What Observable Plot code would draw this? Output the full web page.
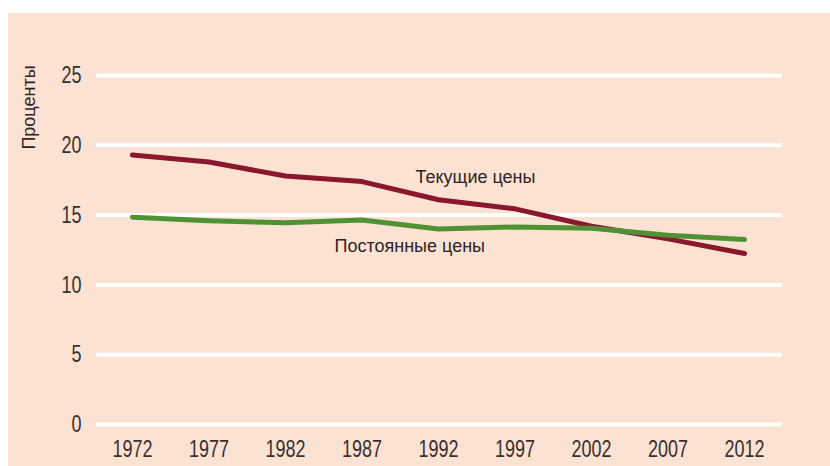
<!DOCTYPE html>
<html>
<head>
<meta charset="utf-8">
<script src="https://cdn.jsdelivr.net/npm/d3@7"></script>
<script src="https://cdn.jsdelivr.net/npm/@observablehq/plot@0.6"></script>
<style>
  html, body { margin: 0; padding: 0; background: #ffffff; }
  #wrap { position: relative; width: 830px; height: 466px; overflow: hidden; }
  #bg { position: absolute; left: 8px; top: 13px; right: 0; bottom: 0; background: #fbe2d3; }
  #chart { position: absolute; left: 0; top: 0; }
  #chart svg { background: transparent; }
</style>
</head>
<body>
<div id="wrap"><div id="bg"></div><div id="chart"></div></div>
<script>
const years = [1972, 1977, 1982, 1987, 1992, 1997, 2002, 2007, 2012];
const currentPrices = [19.3, 18.8, 17.8, 17.4, 16.1, 15.45, 14.2, 13.3, 12.25];
const constantPrices = [14.85, 14.6, 14.45, 14.65, 14.0, 14.15, 14.05, 13.55, 13.25];
const yTicks = [0, 5, 10, 15, 20, 25];
const seriesNames = ["Текущие цены", "Постоянные цены"];
const seriesColors = ["#8a172d", "#4f9234"];
const labelX = [1990.5, 1985.2];
const labelY = [17.7, 12.75];
const yTitle = "Проценты";

const rows = [];
years.forEach((yr, i) => {
  rows.push({year: yr, value: currentPrices[i], series: seriesNames[0]});
  rows.push({year: yr, value: constantPrices[i], series: seriesNames[1]});
});
const labels = seriesNames.map((s, i) => ({name: s, x: labelX[i], y: labelY[i]}));

const chart = Plot.plot({
  width: 830,
  height: 466,
  marginLeft: 96,
  marginRight: 48,
  marginTop: 75,
  marginBottom: 42,
  style: {background: "transparent", color: "#3a2f2f"},
  x: {domain: [1969.65, 2014.48]},
  y: {domain: [0, 25]},
  color: {domain: seriesNames, range: seriesColors},
  marks: [
    Plot.ruleY(yTicks, {stroke: "#ffffff", strokeWidth: 4}),
    Plot.axisY({ticks: yTicks, tickSize: 0, tickPadding: 15, label: null,
      fontSize: 24, fontFamily: "Liberation Sans, Arial, sans-serif", fill: "#3a2f2f"}),
    Plot.axisX({ticks: years, tickSize: 0, tickPadding: 15, tickFormat: d => String(d), label: null,
      fontSize: 24, fontFamily: "Liberation Sans, Arial, sans-serif", fill: "#3a2f2f"}),
    Plot.line(rows, {x: "year", y: "value", z: "series", stroke: "series", strokeWidth: 5,
      strokeLinejoin: "round", strokeLinecap: "round"}),
    Plot.text(labels, {x: "x", y: "y", text: "name", textAnchor: "start", fontSize: 18,
      fontFamily: "Liberation Sans, Arial, sans-serif", fill: "#2e2424"}),
    Plot.text([yTitle], {frameAnchor: "top-left", text: d => d, rotate: -90, dx: -67, dy: 32,
      textAnchor: "middle", lineAnchor: "middle", fontSize: 18,
      fontFamily: "Liberation Sans, Arial, sans-serif", fill: "#2e2424"})
  ]
});
// condense the tick label glyphs horizontally, like the reference's narrow typeface
chart.querySelectorAll('g[aria-label="x-axis tick label"] text, g[aria-label="y-axis tick label"] text')
  .forEach(t => {
    const tr = t.getAttribute("transform") || "";
    t.setAttribute("transform", (tr + " scale(0.75,1)").trim());
  });
document.getElementById("chart").appendChild(chart);
</script>
</body>
</html>
